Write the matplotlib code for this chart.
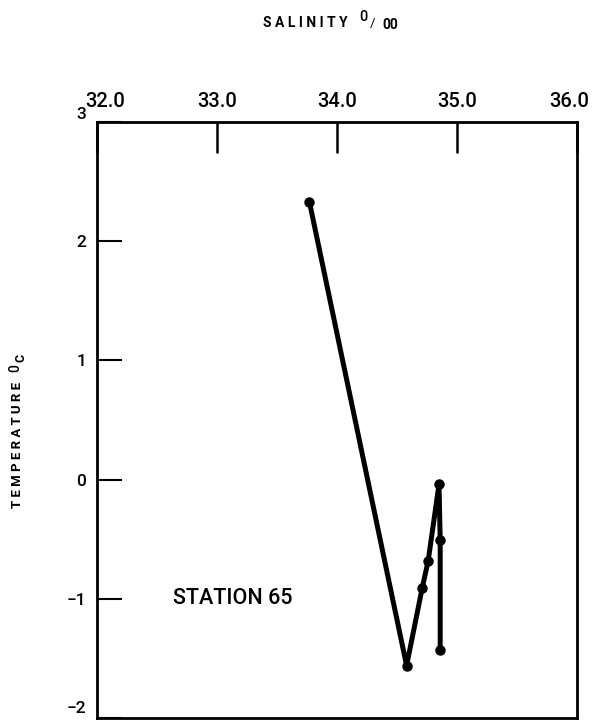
import matplotlib
matplotlib.use("Agg")
import matplotlib.pyplot as plt
from matplotlib.font_manager import FontProperties
import matplotlib.transforms as mtransforms

salinity = [33.77, 34.58, 34.71, 34.76, 34.85, 34.86, 34.86]
temperature = [2.33, -1.56, -0.91, -0.68, -0.04, -0.51, -1.43]
x_ticks = [32.0, 33.0, 34.0, 35.0, 36.0]
x_tick_labels = ["32.0", "33.0", "34.0", "35.0", "36.0"]
y_ticks = [-2, -1, 0, 1, 2, 3]
y_tick_labels = ["\u22122", "\u22121", "0", "1", "2", "3"]
station_label = "STATION 65"

FAM = ["Roboto", "DejaVu Sans"]

fig = plt.figure(figsize=(6.07, 7.2), dpi=100)
L, R, T, B = 97, 577, 122, 718
ax = fig.add_axes([L/607, 1 - B/720, (R-L)/607, (B-T)/720])

ax.plot(salinity, temperature, color="black", lw=3.6, marker="o", ms=6.5,
        solid_capstyle="round", solid_joinstyle="round")

ax.set_xlim(32, 36)
ax.set_ylim(-2, 3)
ax.xaxis.tick_top()
ax.set_xticks(x_ticks)
ax.set_xticklabels(x_tick_labels)
ax.set_yticks(y_ticks)
ax.set_yticklabels(y_tick_labels)

xfont = FontProperties(family=FAM, size=14.5, weight="medium")
yfont = FontProperties(family=FAM, size=12.5, weight="medium")
for lab in ax.get_xticklabels():
    lab.set_fontproperties(xfont)
for lab in ax.get_yticklabels():
    lab.set_fontproperties(yfont)

ax.tick_params(axis="x", direction="in", length=22, width=1.8, pad=8, top=True, bottom=False)
ax.tick_params(axis="y", direction="in", length=18, width=1.5, pad=8, left=True, right=False)
for sp in ax.spines.values():
    sp.set_linewidth(2.0)

# nudge corner labels off the corners
xl = ax.get_xticklabels()
xl[0].set_transform(xl[0].get_transform() + mtransforms.ScaledTranslation(8/100, 0, fig.dpi_scale_trans))
xl[-1].set_transform(xl[-1].get_transform() + mtransforms.ScaledTranslation(-8/100, 0, fig.dpi_scale_trans))
yl = ax.get_yticklabels()
yl[0].set_transform(yl[0].get_transform() + mtransforms.ScaledTranslation(0, 11/100, fig.dpi_scale_trans))
yl[-1].set_transform(yl[-1].get_transform() + mtransforms.ScaledTranslation(0, 9/100, fig.dpi_scale_trans))

ax.text(32.63, -1.0, station_label, ha="left", va="center",
        fontproperties=FontProperties(family=FAM, size=15.5, weight="medium"))

# x axis title
fig.text(263/607, 1 - 23/720, "S A L I N I T Y", ha="left", va="center",
         fontproperties=FontProperties(family=FAM, size=10, weight="bold"))
fig.text(363/607, 1 - 17/720, "0", ha="center", va="center",
         fontproperties=FontProperties(family=FAM, size=10.5, weight="medium"))
fig.text(373/607, 1 - 24/720, "/", ha="center", va="center",
         fontproperties=FontProperties(family=FAM, size=9.5))
fig.text(390/607, 1 - 25/720, "00", ha="center", va="center",
         fontproperties=FontProperties(family=FAM, size=10, weight="bold"))

# y axis title
fig.text(18/607, 1 - 445/720, "T E M P E R A T U R E", ha="center", va="center", rotation=90,
         fontproperties=FontProperties(family=FAM, size=9.5, weight="bold"))
fig.text(15/607, 1 - 368/720, "0", ha="center", va="center", rotation=90,
         fontproperties=FontProperties(family=FAM, size=10, weight="medium"))
fig.text(21/607, 1 - 358/720, "C", ha="center", va="center", rotation=90,
         fontproperties=FontProperties(family=FAM, size=9, weight="bold"))

fig.savefig("out.png", dpi=100)
